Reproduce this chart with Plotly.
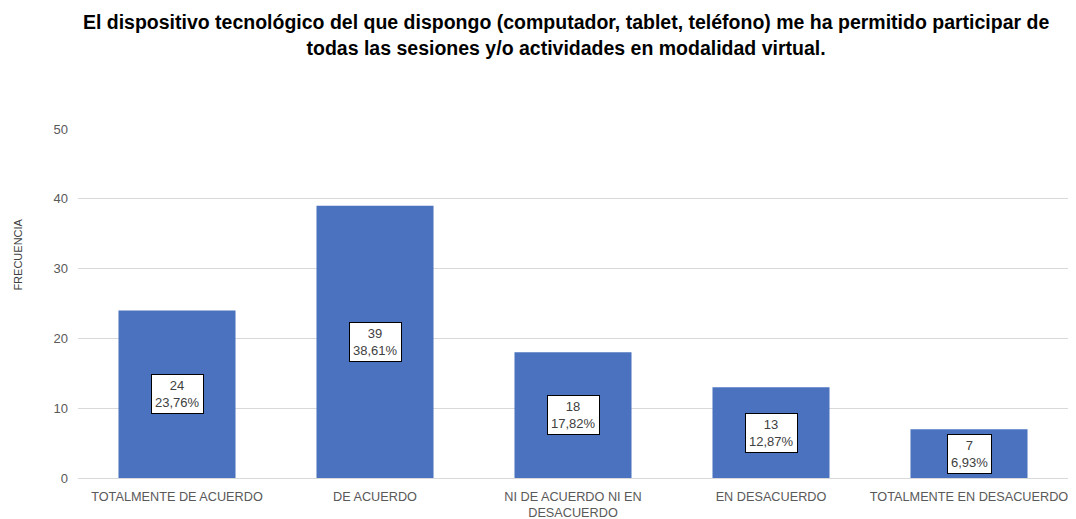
import plotly.graph_objects as go

categories = ["TOTALMENTE DE ACUERDO", "DE ACUERDO", "NI DE ACUERDO NI EN<br>DESACUERDO",
              "EN DESACUERDO", "TOTALMENTE EN DESACUERDO"]
frecuencia = [24, 39, 18, 13, 7]
porcentajes = ["23,76%", "38,61%", "17,82%", "12,87%", "6,93%"]
y_ticks = [0, 10, 20, 30, 40, 50]

title_text = ("<b>El dispositivo tecnológico del que dispongo (computador, tablet, teléfono) me ha permitido participar de<br>"
              "todas las sesiones y/o actividades en modalidad virtual.</b>")

fig = go.Figure()
fig.add_trace(go.Bar(x=categories, y=frecuencia, marker=dict(color="#4A72BF", line=dict(width=0)),
                     hoverinfo="skip"))

for c, v, p in zip(categories, frecuencia, porcentajes):
    fig.add_annotation(x=c, y=v / 2, text=f"{v}<br>{p}", showarrow=False,
                       font=dict(family="Liberation Sans, Arial", size=13, color="#404040"),
                       bgcolor="white", bordercolor="black", borderwidth=1, borderpad=3,
                       align="center")

fig.add_annotation(text="FRECUENCIA", xref="paper", yref="paper", x=-0.061, y=0.639,
                   xanchor="center", yanchor="middle", textangle=-90, showarrow=False,
                   font=dict(family="Liberation Sans, Arial", size=11, color="#404040"))

fig.update_layout(
    width=1060, height=511,
    margin=dict(l=70, r=0, t=121, b=41, autoexpand=False),
    paper_bgcolor="white", plot_bgcolor="white",
    bargap=0.409,
    showlegend=False,
    title=dict(text=title_text, x=0.5265, xanchor="center", y=0.958, yanchor="top",
               font=dict(family="Liberation Sans, Arial", size=19.5, color="black")),
    font=dict(family="Liberation Sans, Arial", size=13, color="#595959"),
)
fig.update_xaxes(showgrid=False, showline=False, ticks="", ticklabelstandoff=9, automargin=False,
                 tickfont=dict(size=12.7, color="#595959"))
fig.update_yaxes(range=[0, 50], tickvals=y_ticks, showgrid=True, gridcolor="#D9D9D9", gridwidth=1,
                 zeroline=True, zerolinecolor="#D9D9D9", zerolinewidth=1, showline=False,
                 ticks="", ticklabelstandoff=9, automargin=False, tickfont=dict(size=13, color="#595959"))

fig.write_html("out.html")
